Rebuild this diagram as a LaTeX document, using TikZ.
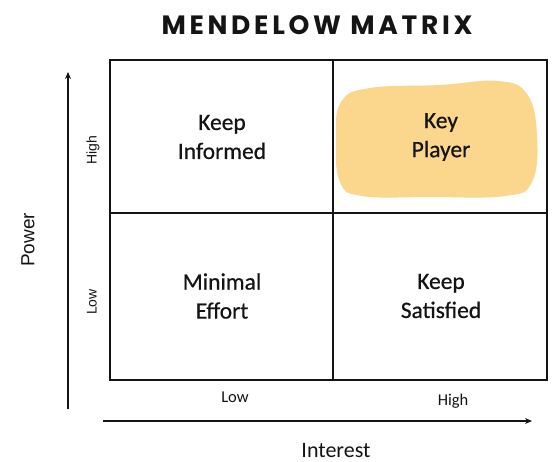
\documentclass[tikz,border=0pt]{standalone}
\usepackage{fontspec}
\setmainfont{Carlito}
\newfontfamily\cellf[FakeBold=0.6]{Carlito}
\newfontfamily\arialf{Liberation Sans}
\newfontfamily\titlef[LetterSpace=14]{Poppins}
\usetikzlibrary{arrows.meta}
\definecolor{blob}{RGB}{250,215,140}
\definecolor{ink}{RGB}{20,20,20}
\tikzset{
  gridline/.style={line width=1.6pt, draw=ink},
  axis/.style={line width=1.4pt, draw=ink, -{Stealth[length=7pt,width=6pt]}},
  celltext/.style={align=center, font=\cellf\fontsize{23.5}{29}\selectfont, text=ink},
  ticklbl/.style={font=\fontsize{16.5}{18}\selectfont, text=ink},
  sidelbl/.style={font=\arialf\fontsize{14}{16}\selectfont, text=ink, rotate=90},
}
\begin{document}
\begin{tikzpicture}[x=1pt,y=-1pt]
\useasboundingbox (0,0) rectangle (560,462);
% title
\node[font=\titlef\bfseries\fontsize{26.5}{28}\selectfont, text=ink] (title) at (317,25) {MENDELOW MATRIX};
% blob
\fill[blob] plot[smooth cycle, tension=0.7] coordinates {(336,140) (341,102) (370,88) (440,85) (498,81) (527,94) (537,135) (532,182) (505,196) (430,197) (362,196) (340,182)};
% grid
\coordinate (tl) at (110,60);
\coordinate (br) at (547,380);
\coordinate (mt) at (333,60);
\coordinate (mb) at (333,380);
\coordinate (ml) at (110,213);
\coordinate (mr) at (547,213);
\draw[gridline] (tl) rectangle (br);
\draw[gridline] (mt) -- (mb);
\draw[gridline] (ml) -- (mr);
% axes
\coordinate (vs) at (68,409);
\coordinate (ve) at (68,72);
\coordinate (hs) at (103,421);
\coordinate (he) at (532,421);
\draw[axis] (vs) -- (ve);
\draw[axis] (hs) -- (he);
% cell texts
\node[celltext] (c1) at (222,137) {Keep\\Informed};
\node[celltext] (c2) at (441,137) {Key\\Player};
\node[celltext] (c3) at (222,296) {Minimal\\Effort};
\node[celltext] (c4) at (441,296) {Keep\\Satisfied};
% labels
\node[ticklbl] (xlow) at (235,397) {Low};
\node[ticklbl] (xhigh) at (453,401) {High};
\node[font=\fontsize{22}{24}\selectfont, text=ink] (xlab) at (336,451) {Interest};
\node[sidelbl] (yhigh) at (93,150) {High};
\node[sidelbl] (ylow) at (92,302) {Low};
\node[font=\arialf\fontsize{19}{21}\selectfont, text=ink, rotate=90] (ylab) at (28,240) {Power};
\end{tikzpicture}
\end{document}
